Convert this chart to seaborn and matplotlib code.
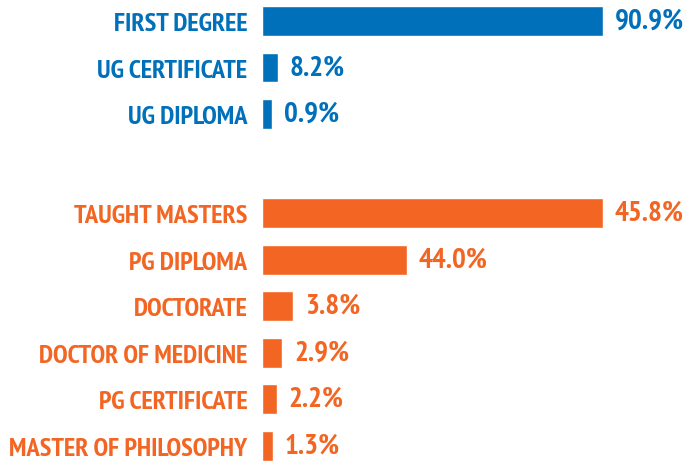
import pandas as pd
import seaborn as sns
import matplotlib.pyplot as plt

# undergraduate group
ug_names = ['FIRST DEGREE', 'UG CERTIFICATE', 'UG DIPLOMA']
ug_labels = ['90.9%', '8.2%', '0.9%']
ug_bar = [100, 4.6, 2.9]          # bar lengths as drawn (longest bar = 100)

# postgraduate group
pg_names = ['TAUGHT MASTERS', 'PG DIPLOMA', 'DOCTORATE',
            'DOCTOR OF MEDICINE', 'PG CERTIFICATE', 'MASTER OF PHILOSOPHY']
pg_labels = ['45.8%', '44.0%', '3.8%', '2.9%', '2.2%', '1.3%']
pg_bar = [100, 42.4, 9.0, 5.9, 4.3, 3.2]

blue = '#0070ba'
orange = '#f26522'

sns.set_theme(style='white')
plt.rcParams['font.family'] = ['PT Sans Narrow', 'DejaVu Sans']

# row positions: small gap between the two groups
gap = 2.13
rows = list(range(len(ug_names))) + [len(ug_names) - 1 + gap + i for i in range(len(pg_names))]

df = pd.DataFrame({
    'name': ug_names + pg_names,
    'label': ug_labels + pg_labels,
    'bar': ug_bar + pg_bar,
    'group': ['UG'] * len(ug_names) + ['PG'] * len(pg_names),
    'row': rows,
})

fig = plt.figure(figsize=(6.93, 4.64), dpi=100)
ax = fig.add_axes([262 / 693, 0, 431 / 693, 1])

sns.barplot(data=df, x='bar', y='row', hue='group', orient='h', native_scale=True,
            palette={'UG': blue, 'PG': orange}, width=0.645, dodge=False,
            legend=False, saturation=1, ax=ax)

ax.set_xlim(0, 100 * 431 / 341)
ax.set_ylim((464 - 22) / 46.5, -22 / 46.5)

ax.set_yticks(df['row'])
ax.set_yticklabels(df['name'])
ax.tick_params(axis='y', length=0, pad=10.5)
for lbl, g in zip(ax.get_yticklabels(), df['group']):
    lbl.set_color(blue if g == 'UG' else orange)
    lbl.set_fontsize(19)
    lbl.set_fontweight('bold')

for _, r in df.iterrows():
    ax.text(r['bar'] + 3.5, r['row'], r['label'], va='center', ha='left',
            fontsize=21, fontweight='bold',
            color=blue if r['group'] == 'UG' else orange)

ax.set_xticks([])
ax.set_xlabel('')
ax.set_ylabel('')
sns.despine(ax=ax, left=True, bottom=True)

plt.savefig('out.png', dpi=100)
